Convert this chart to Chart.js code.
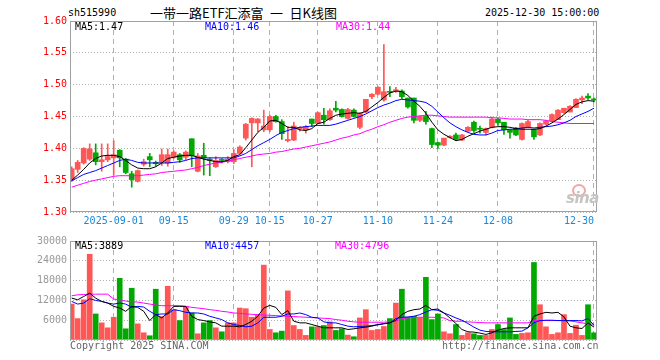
<!DOCTYPE html>
<html>
<head>
<meta charset="utf-8">
<script src="https://cdn.jsdelivr.net/npm/chart.js@4/dist/chart.umd.min.js"></script>
<style>
  body { margin: 0; background: #fff; width: 660px; height: 360px; position: relative; overflow: hidden; }
  .t { position: absolute; white-space: pre; font-family: "DejaVu Sans Mono", monospace; font-size: 10px; line-height: 12px; }
  .title { position: absolute; white-space: pre; font-family: "Noto Sans CJK SC", sans-serif; font-size: 13px; line-height: 16px; }
  .logo { position: absolute; font-family: "DejaVu Sans", sans-serif; font-style: italic; font-weight: bold; font-size: 15px; line-height: 16px; color: #c4c4c4; letter-spacing: -0.5px; }
  .eye { position: absolute; width: 10px; height: 9px; border-radius: 50%; border: 2px solid #f2a6a6; }
  canvas { position: absolute; left: 0; }
</style>
</head>
<body>
<div class="t" style="left:68px;top:7px">sh515990</div>
<div class="title" style="left:150px;top:5px">一带一路ETF汇添富&ensp;一&ensp;日K线图</div>
<div class="t" style="left:485px;top:7px">2025-12-30 15:00:00</div>

<canvas id="k" width="660" height="232" style="top:0"></canvas>
<canvas id="v" width="660" height="128" style="top:232px"></canvas>

<div class="t" id="lk5" style="left:75px;top:21px;color:#000"></div>
<div class="t" id="lk10" style="left:205px;top:21px;color:#0000ff"></div>
<div class="t" id="lk30" style="left:336px;top:21px;color:#ff00ff"></div>
<div class="t" id="lv5" style="left:75px;top:240px;color:#000"></div>
<div class="t" id="lv10" style="left:205px;top:240px;color:#0000ff"></div>
<div class="t" id="lv30" style="left:335px;top:240px;color:#ff00ff"></div>
<div class="eye" style="left:572px;top:184px"></div>
<div class="logo" style="left:566px;top:190px">sina</div>
<div class="t" style="left:70px;top:340px;color:#666">Copyright 2025 SINA.COM</div>
<div class="t" style="left:442px;top:340px;color:#666">http://finance.sina.com.cn</div>

<script>
// trading days shown on the chart
const dates = [
  '2025-08-21','2025-08-22','2025-08-25','2025-08-26','2025-08-27','2025-08-28','2025-08-29',
  '2025-09-01','2025-09-02','2025-09-03','2025-09-04','2025-09-05','2025-09-08','2025-09-09','2025-09-10','2025-09-11','2025-09-12',
  '2025-09-15','2025-09-16','2025-09-17','2025-09-18','2025-09-19','2025-09-22','2025-09-23','2025-09-24','2025-09-25','2025-09-26',
  '2025-09-29','2025-09-30','2025-10-09','2025-10-10','2025-10-13','2025-10-14','2025-10-15','2025-10-16','2025-10-17',
  '2025-10-20','2025-10-21','2025-10-22','2025-10-23','2025-10-24','2025-10-27','2025-10-28','2025-10-29','2025-10-30','2025-10-31',
  '2025-11-03','2025-11-04','2025-11-05','2025-11-06','2025-11-07','2025-11-10','2025-11-11','2025-11-12','2025-11-13','2025-11-14',
  '2025-11-17','2025-11-18','2025-11-19','2025-11-20','2025-11-21','2025-11-24','2025-11-25','2025-11-26','2025-11-27','2025-11-28',
  '2025-12-01','2025-12-02','2025-12-03','2025-12-04','2025-12-05','2025-12-08','2025-12-09','2025-12-10','2025-12-11','2025-12-12',
  '2025-12-15','2025-12-16','2025-12-17','2025-12-18','2025-12-19','2025-12-22','2025-12-23','2025-12-24','2025-12-25','2025-12-26',
  '2025-12-29','2025-12-30'
];
const tickDates = ['2025-09-01','2025-09-15','2025-09-29','2025-10-15','2025-10-27','2025-11-10','2025-11-24','2025-12-08','2025-12-30'];
const tickText  = ['2025-09-01','09-15','09-29','10-15','10-27','11-10','11-24','12-08','12-30'];
const priceTicks = [1.30, 1.35, 1.40, 1.45, 1.50, 1.55, 1.60];
const volTicks = [0, 6000, 12000, 18000, 24000, 30000];

const open = [
  1.351,1.367,1.377,1.383,1.393,1.379,1.382,1.385,1.397,1.383,
  1.360,1.348,1.375,1.387,1.378,1.378,1.377,1.386,1.390,1.386,
  1.415,1.364,1.389,1.383,1.371,1.382,1.379,1.379,1.392,1.416,
  1.440,1.440,1.429,1.429,1.450,1.442,1.412,1.413,1.431,1.429,
  1.446,1.439,1.452,1.445,1.463,1.461,1.447,1.460,1.433,1.457,
  1.481,1.485,1.476,1.489,1.490,1.490,1.479,1.479,1.444,1.450,
  1.431,1.409,1.405,1.417,1.421,1.413,1.427,1.441,1.431,1.425,
  1.433,1.446,1.441,1.429,1.432,1.414,1.434,1.430,1.421,1.438,
  1.443,1.445,1.456,1.457,1.464,1.476,1.482,1.477
];
const high = [
  1.371,1.381,1.401,1.407,1.407,1.407,1.407,1.412,1.398,1.384,
  1.364,1.366,1.383,1.392,1.380,1.399,1.399,1.396,1.392,1.396,
  1.415,1.392,1.408,1.385,1.387,1.384,1.387,1.398,1.404,1.439,
  1.448,1.447,1.460,1.452,1.452,1.445,1.434,1.441,1.434,1.436,
  1.446,1.457,1.463,1.462,1.474,1.462,1.463,1.462,1.456,1.477,
  1.486,1.497,1.563,1.497,1.496,1.492,1.479,1.479,1.451,1.458,
  1.432,1.410,1.416,1.420,1.424,1.422,1.434,1.443,1.435,1.432,
  1.449,1.447,1.441,1.429,1.433,1.440,1.444,1.430,1.440,1.444,
  1.454,1.461,1.463,1.467,1.478,1.482,1.486,1.479
];
const low = [
  1.348,1.362,1.375,1.381,1.374,1.364,1.379,1.358,1.371,1.360,
  1.339,1.347,1.372,1.371,1.372,1.373,1.372,1.384,1.378,1.382,
  1.371,1.363,1.358,1.357,1.370,1.377,1.377,1.376,1.391,1.413,
  1.371,1.426,1.426,1.426,1.441,1.414,1.410,1.412,1.427,1.424,
  1.434,1.439,1.438,1.444,1.457,1.449,1.446,1.449,1.431,1.456,
  1.478,1.484,1.474,1.481,1.488,1.478,1.463,1.440,1.442,1.438,
  1.401,1.400,1.404,1.416,1.412,1.412,1.426,1.425,1.424,1.421,
  1.432,1.436,1.422,1.416,1.420,1.413,1.433,1.414,1.420,1.437,
  1.442,1.445,1.455,1.457,1.464,1.470,1.477,1.473
];
const close = [
  1.368,1.378,1.400,1.399,1.379,1.382,1.387,1.390,1.385,1.362,
  1.351,1.365,1.379,1.382,1.376,1.390,1.390,1.394,1.382,1.394,
  1.388,1.388,1.385,1.381,1.381,1.381,1.383,1.392,1.402,1.438,
  1.447,1.446,1.435,1.450,1.442,1.423,1.414,1.435,1.433,1.434,
  1.439,1.456,1.445,1.459,1.460,1.450,1.461,1.450,1.455,1.477,
  1.485,1.496,1.489,1.488,1.492,1.481,1.465,1.444,1.450,1.442,
  1.406,1.405,1.416,1.419,1.414,1.421,1.433,1.428,1.430,1.431,
  1.446,1.440,1.429,1.425,1.421,1.439,1.442,1.418,1.439,1.443,
  1.453,1.460,1.463,1.466,1.477,1.479,1.479,1.476
];
const ma5 = [
  1.350,1.358,1.367,1.377,1.384,1.388,1.389,1.389,1.387,1.381,
  1.374,1.369,1.368,1.368,1.371,1.377,1.384,1.386,1.388,1.389,
  1.389,1.386,1.383,1.381,1.379,1.379,1.381,1.387,1.390,1.401,
  1.413,1.425,1.433,1.443,1.444,1.439,1.433,1.433,1.429,1.428,
  1.431,1.439,1.441,1.447,1.452,1.454,1.455,1.456,1.455,1.458,
  1.465,1.472,1.480,1.487,1.490,1.489,1.483,1.474,1.466,1.455,
  1.441,1.429,1.422,1.417,1.412,1.414,1.419,1.423,1.427,1.430,
  1.433,1.434,1.434,1.433,1.431,1.430,1.430,1.430,1.431,1.435,
  1.440,1.446,1.453,1.461,1.469,1.473,1.475,1.474
];
const ma10 = [
  1.349,1.354,1.359,1.362,1.365,1.369,1.373,1.377,1.381,1.383,
  1.381,1.378,1.377,1.377,1.377,1.377,1.377,1.378,1.379,1.381,
  1.384,1.385,1.385,1.385,1.385,1.385,1.385,1.385,1.388,1.392,
  1.398,1.404,1.409,1.414,1.420,1.425,1.428,1.431,1.433,1.434,
  1.435,1.436,1.436,1.436,1.438,1.441,1.444,1.447,1.450,1.454,
  1.459,1.464,1.468,1.471,1.475,1.477,1.476,1.475,1.474,1.472,
  1.466,1.457,1.448,1.440,1.434,1.429,1.425,1.422,1.421,1.421,
  1.424,1.428,1.429,1.430,1.430,1.432,1.433,1.432,1.433,1.434,
  1.435,1.437,1.440,1.444,1.450,1.454,1.458,1.463
];
const ma30 = [
  1.339,1.342,1.345,1.348,1.350,1.352,1.354,1.356,1.357,1.357,
  1.357,1.357,1.358,1.359,1.360,1.362,1.363,1.364,1.365,1.366,
  1.368,1.370,1.373,1.375,1.377,1.378,1.380,1.382,1.384,1.386,
  1.388,1.390,1.391,1.392,1.394,1.395,1.397,1.399,1.400,1.402,
  1.404,1.406,1.408,1.410,1.413,1.416,1.418,1.421,1.423,1.427,
  1.430,1.434,1.437,1.441,1.444,1.447,1.449,1.450,1.451,1.452,
  1.452,1.451,1.450,1.449,1.449,1.449,1.449,1.449,1.449,1.449,
  1.448,1.448,1.447,1.446,1.446,1.446,1.445,1.445,1.445,1.444,
  1.442,1.441,1.440,1.439,1.439,1.439,1.439,1.439
];
const vol = [
  10890,6490,12190,25990,7890,5190,3690,6890,18690,3390,
  15690,4890,2190,1290,15390,7090,16290,9190,5890,10190,
  8190,1890,5190,5890,3690,2490,5190,5190,9690,9490,
  6890,7490,22690,3190,2190,2690,14890,4390,3190,1390,
  3990,3990,4390,5490,2890,3390,1500,990,6690,9190,
  2890,3190,4090,6490,11190,15390,6890,7190,6690,18990,
  6190,7890,2490,1890,4690,1390,2190,1890,1390,1390,
  3190,4690,3190,6690,1690,1990,2190,23490,10690,3990,
  1690,2190,7690,1990,4490,1390,10690,2190
];
const volMa5 = [
  12700,12190,13190,14190,12690,11690,11190,10190,9690,8690,
  10190,9890,8690,5890,7690,6690,8190,10190,10190,10190,
  7190,6190,5890,5490,5190,4190,4190,4190,3990,4690,
  5690,7190,9690,10490,9890,7690,8890,5690,5190,5190,
  4690,4190,3690,3690,3690,3690,3190,3390,3690,3890,
  4190,4690,4990,5190,5990,7690,8690,9190,9390,10490,
  9190,9390,8190,6690,4990,3190,2490,2390,2090,1690,
  2190,2990,3490,3690,3690,3690,3690,7190,7890,8390,
  8190,8390,6990,4190,3690,3490,5190,3889
];
const volMa10 = [
  11690,10890,11190,12490,11990,11690,11190,10890,11190,10890,
  9890,10190,9990,8690,7690,7890,7890,9190,8890,8390,
  8190,8190,7890,7190,6690,6190,5190,4690,4390,3990,
  4190,5190,6890,6890,6890,7190,7890,7890,8190,7690,
  6890,6690,5490,5190,5190,4690,4200,3990,4090,4190,
  4390,4590,4890,5190,6490,6890,6990,7190,7690,8490,
  9190,8990,8190,7490,6690,5990,4990,3890,2990,2590,
  2490,2490,2490,2490,2590,2690,3690,5190,5890,5990,
  5990,5890,5890,5890,5890,5790,6490,4457
];
const volMa30 = [
  13390,13690,13790,13890,13890,13890,13890,12390,12190,11790,
  11590,11490,11190,10890,10590,10390,10390,10390,10390,10190,
  9890,9690,9490,9190,8990,8690,8490,8190,8090,7890,
  7790,7690,7590,7490,7390,7290,7190,7090,6990,6890,
  6790,6690,6590,6490,6190,5990,5690,5490,5390,5390,
  5390,5390,5390,5490,5690,6490,6690,6890,6890,6890,
  6890,6790,6690,5890,5690,5690,5490,5390,5290,5190,
  5190,5190,5190,5190,5190,5190,5190,5890,5890,5890,
  5890,5890,5890,5790,5490,5190,4890,4796
];

const RED = '#ff5656';
const GREEN = '#00a800';
const MONO = '"DejaVu Sans Mono", monospace';
const tickIdx = tickDates.map(d => dates.indexOf(d));
const X_MIN = -0.28, X_MAX = 87.5;

const candleColor = close.map((c, i) => c >= open[i] ? RED : GREEN);
const pts = arr => arr.map((v, i) => ({ x: i, y: v }));
const last = arr => arr[arr.length - 1];

document.getElementById('lk5').textContent = 'MA5:' + last(ma5).toFixed(2);
document.getElementById('lk10').textContent = 'MA10:' + last(ma10).toFixed(2);
document.getElementById('lk30').textContent = 'MA30:' + last(ma30).toFixed(2);
document.getElementById('lv5').textContent = 'MA5:' + last(volMa5);
document.getElementById('lv10').textContent = 'MA10:' + last(volMa10);
document.getElementById('lv30').textContent = 'MA30:' + last(volMa30);

// grey box round each plot
const frame = {
  id: 'frame',
  afterDraw(chart) {
    const a = chart.chartArea, ctx = chart.ctx;
    ctx.save();
    ctx.strokeStyle = '#a0a0a0';
    ctx.lineWidth = 1;
    ctx.strokeRect(a.left + 0.5, a.top + 0.5, a.right - a.left - 1, a.bottom - a.top - 1);
    ctx.restore();
  }
};

function maLine(data, color) {
  return { type: 'line', data: pts(data), borderColor: color, borderWidth: 1, pointRadius: 0, tension: 0, order: 0 };
}

function xScale(showLabels) {
  return {
    type: 'linear', min: X_MIN, max: X_MAX, offset: false,
    afterBuildTicks: s => { s.ticks = tickIdx.map(v => ({ value: v })); },
    afterFit: s => { s.height = showLabels ? 20 : 0; },
    grid: { color: '#b0b0b0', drawTicks: false, offset: false },
    border: { display: false, dash: [5, 4] },
    ticks: {
      display: showLabels, autoSkip: false, maxRotation: 0, padding: 3,
      color: '#1a88d8', font: { family: MONO, size: 10 },
      callback: v => {
        const k = tickIdx.indexOf(v);
        if (k < 0) return '';
        // last label sits left of its line so it stays inside the frame
        return k === tickIdx.length - 1 ? tickText[k] + ' '.repeat(tickText[k].length) : tickText[k];
      }
    }
  };
}

new Chart(document.getElementById('k'), {
  type: 'bar',
  data: {
    datasets: [
      maLine(ma5, '#000000'),
      maLine(ma10, '#0000ff'),
      maLine(ma30, '#ff00ff'),
      { type: 'bar', data: open.map((o, i) => ({ x: i, y: [o, close[i]] })), backgroundColor: candleColor,
        barThickness: 5, minBarLength: 1, grouped: false, order: 2 },
      { type: 'bar', data: low.map((l, i) => ({ x: i, y: [l, high[i]] })), backgroundColor: candleColor,
        barThickness: 1, minBarLength: 1, grouped: false, order: 3 }
    ]
  },
  options: {
    responsive: false, animation: false, events: [],
    layout: { padding: { top: 21, right: 63, left: 0, bottom: 0 } },
    plugins: { legend: { display: false }, tooltip: { enabled: false } },
    scales: {
      x: xScale(true),
      y: {
        min: 1.30, max: 1.60,
        afterBuildTicks: s => { s.ticks = priceTicks.map(v => ({ value: v })); },
        afterFit: s => { s.width = 70; },
        grid: { color: '#b0b0b0', drawTicks: false },
        border: { display: false, dash: [1, 2] },
        ticks: { color: '#ff0000', padding: 3, font: { family: MONO, size: 10 }, callback: v => v.toFixed(2) }
      }
    }
  },
  plugins: [frame]
});

new Chart(document.getElementById('v'), {
  type: 'bar',
  data: {
    datasets: [
      maLine(volMa5, '#000000'),
      maLine(volMa10, '#0000ff'),
      maLine(volMa30, '#ff00ff'),
      { type: 'bar', data: pts(vol), backgroundColor: candleColor, barThickness: 5, grouped: false, order: 2 }
    ]
  },
  options: {
    responsive: false, animation: false, events: [],
    layout: { padding: { top: 8, right: 63, left: 0, bottom: 20 } },
    plugins: { legend: { display: false }, tooltip: { enabled: false } },
    scales: {
      x: xScale(false),
      y: {
        min: 0, max: 30000,
        afterBuildTicks: s => { s.ticks = volTicks.map(v => ({ value: v })); },
        afterFit: s => { s.width = 70; },
        grid: { color: '#b0b0b0', drawTicks: false },
        border: { display: false, dash: [1, 2] },
        ticks: { color: '#999999', padding: 3, font: { family: MONO, size: 10 }, callback: v => v === 0 ? '' : String(v) }
      }
    }
  },
  plugins: [frame]
});
</script>
</body>
</html>
